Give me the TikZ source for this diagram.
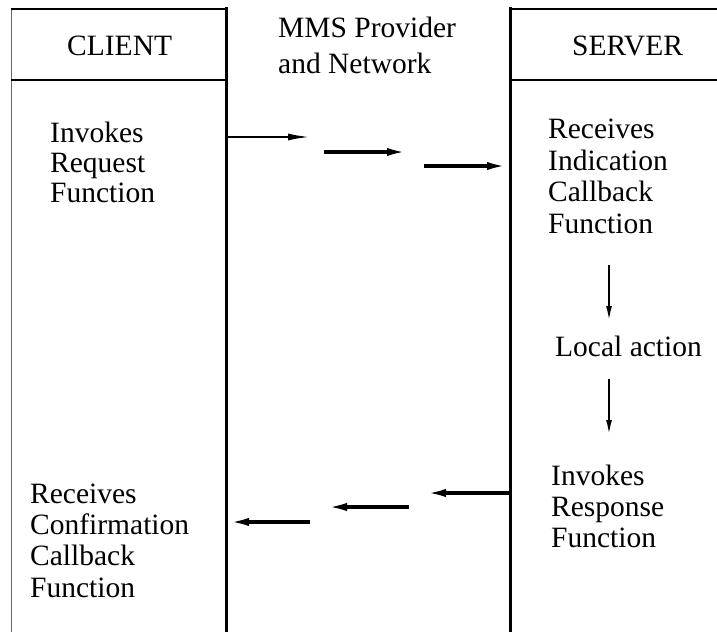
\documentclass[tikz,border=0pt]{standalone}
\usepackage{fontspec}
\setmainfont{Liberation Serif}
\usetikzlibrary{arrows.meta}
\begin{document}
\begin{tikzpicture}[x=1pt,y=-1pt,
  lbl/.style={font=\fontsize{29.5}{31}\selectfont, inner sep=0pt, align=left, anchor=base west},
  head/.style={font=\fontsize{29.5}{36}\selectfont, inner sep=0pt, anchor=base west},
  frame/.style={line width=1.5pt},
  border/.style={line width=1pt, black!60},
  lane/.style={line width=3pt},
  msgthin/.style={line width=2pt, -{Latex[length=22pt,width=7pt]}},
  msg/.style={line width=3.5pt, -{Latex[length=22pt,width=8pt]}},
  flow/.style={line width=2pt, -{Latex[length=15pt,width=6pt]}}
]
\useasboundingbox (0,0) rectangle (717,632);
% frame
\draw[border] (11,9) -- (11,632);
\draw[frame] (11,9) -- (226,9) (11,80) -- (226,80);
\draw[frame] (510,9) -- (717,9) (510,80) -- (717,80);
\draw[lane] (226,7) -- (226,632);
\draw[lane] (510,7) -- (510,632);
% headings (multi-line nodes are placed by the baseline of their last line)
\node[head] (client) at (67,55) {CLIENT};
\node[head] (server) at (572,55) {SERVER};
\node[head, align=left] (mms) at (278,73) {MMS Provider\\and Network};
% texts
\node[lbl, font=\fontsize{29.5}{30}\selectfont] (invreq) at (50,202) {Invokes\\Request\\Function};
\node[lbl, font=\fontsize{29.5}{31.5}\selectfont] (recind) at (548,233) {Receives\\Indication\\Callback\\Function};
\node[lbl] (local) at (555,356) {Local action};
\node[lbl] (invresp) at (551,547) {Invokes\\Response\\Function};
\node[lbl, font=\fontsize{29.5}{31.3}\selectfont] (recconf) at (30,597) {Receives\\Confirmation\\Callback\\Function};
% request arrows
\coordinate (r1s) at (226,137); \coordinate (r1e) at (310,137);
\coordinate (r2s) at (324,152); \coordinate (r2e) at (409,152);
\coordinate (r3s) at (424,166); \coordinate (r3e) at (509,166);
\draw[msgthin] (r1s) -- (r1e);
\draw[msg] (r2s) -- (r2e);
\draw[msg] (r3s) -- (r3e);
% response arrows
\coordinate (s1s) at (510,493); \coordinate (s1e) at (424,493);
\coordinate (s2s) at (409,507); \coordinate (s2e) at (325,507);
\coordinate (s3s) at (310,522); \coordinate (s3e) at (227,522);
\draw[msg] (s1s) -- (s1e);
\draw[msg] (s2s) -- (s2e);
\draw[msg] (s3s) -- (s3e);
% local flow
\coordinate (v1s) at (609,265); \coordinate (v1e) at (609,321);
\coordinate (v2s) at (609,379); \coordinate (v2e) at (609,435);
\draw[flow] (v1s) -- (v1e);
\draw[flow] (v2s) -- (v2e);
\end{tikzpicture}
\end{document}
